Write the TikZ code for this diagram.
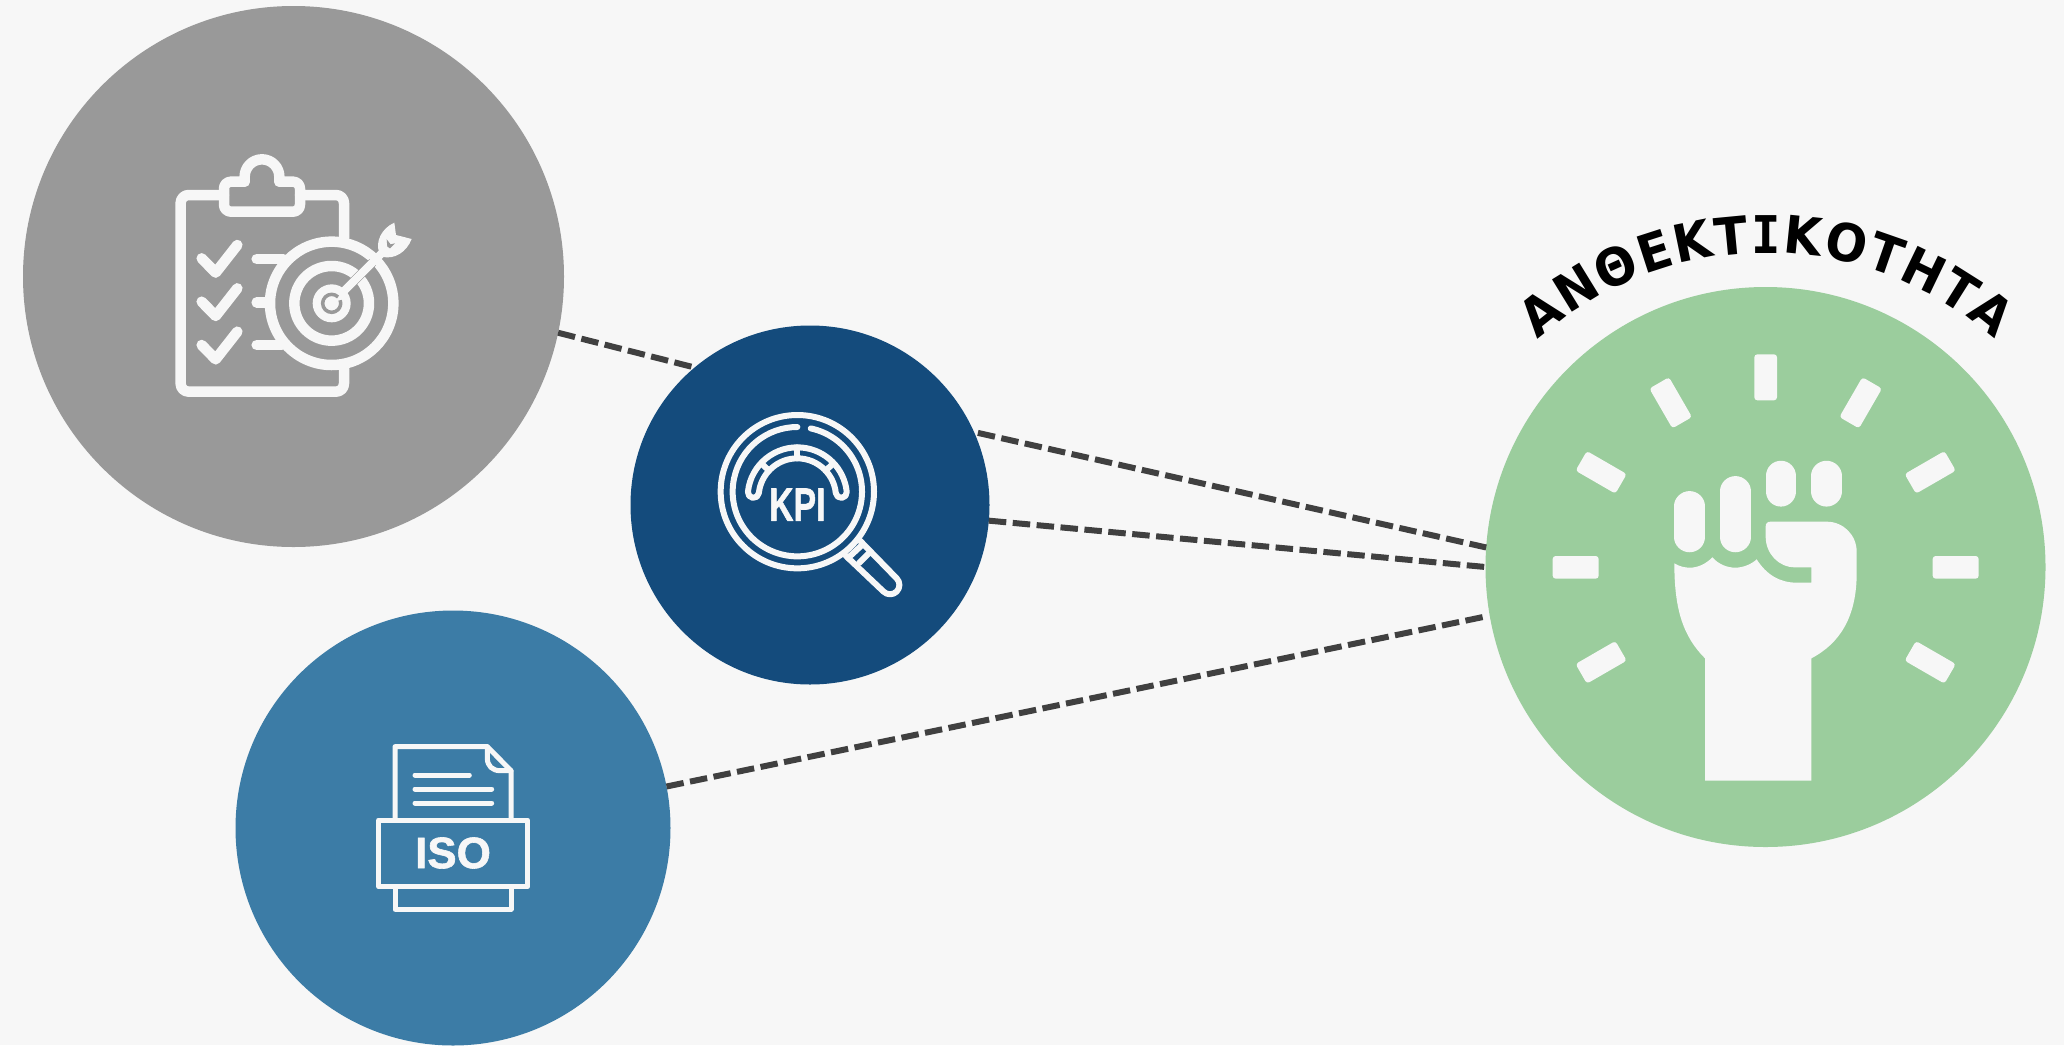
\documentclass[tikz,border=0pt]{standalone}
\usepackage{fontspec}
\setmainfont{Liberation Sans}
\newfontfamily\titlefont{DejaVu Sans}[FakeStretch=0.94]
\newfontfamily\titlemono{DejaVu Sans Mono}[FakeStretch=0.94]
\newfontfamily\iconfont{Liberation Sans Bold}[FakeBold=1.3]
\usetikzlibrary{decorations.text}
\definecolor{bgc}{HTML}{F7F7F7}
\definecolor{greyc}{HTML}{999999}
\definecolor{navyc}{HTML}{144B7C}
\definecolor{bluec}{HTML}{3C7CA6}
\definecolor{greenc}{HTML}{9BCD9D}
\definecolor{dashc}{HTML}{404040}
\tikzset{
  disc/.style={circle,inner sep=0pt,outer sep=0pt,minimum size=#1},
  linkline/.style={draw=dashc,line width=6pt,dash pattern=on 17.5pt off 6.5pt},
  iconline/.style={draw=bgc,line cap=round,line join=round,line width=#1},
  iconfill/.style={fill=bgc,draw=none},
  icontext/.style={text=bgc,inner sep=0pt,outer sep=0pt}
}
\begin{document}
\begin{tikzpicture}[x=1pt,y=-1pt]
\fill[bgc] (0,0) rectangle (2064,1045);
\useasboundingbox (0,0) rectangle (2064,1045);
\begin{scope}
\clip (0,0) rectangle (2064,1045);
\node[disc=541pt,fill=greyc] (grey) at (293.5,276.5) {};
\node[disc=359pt,fill=navyc] (navy) at (810,505) {};
\node[disc=435pt,fill=bluec] (blue) at (453,828) {};
\node[disc=560pt,fill=greenc] (green) at (1765.5,567) {};
\end{scope}
% connectors
\draw[linkline] (grey.-12.7) -- (navy.130.4);
\draw[linkline,shorten <=4pt] (navy.24) -- (green.176.1);
\draw[linkline] (navy.-5.1) -- (green.180.4);
\draw[linkline,shorten >=4pt] (blue.11.7) -- (green.190);
% clipboard icon
\begin{scope}[shift={(150,130)},scale=1/3]
\tikzset{every path/.append style={iconline=10.5pt}}
\draw[rounded corners=8pt] (222,195) -- (92,195) -- (92,785) -- (582,785) -- (582,715);
\draw[rounded corners=8pt] (450,195) -- (582,195) -- (582,325);
\draw[rounded corners=7pt] (388,155) -- (450,155) -- (450,245) -- (222,245) -- (222,155) -- (284,155);
\draw (284,155) -- (284,140) arc[start angle=180,end angle=360,radius=52] -- (388,155);
\draw (155,385) -- (197,428) -- (262,345);
\draw (155,515) -- (197,558) -- (262,475);
\draw (155,645) -- (197,688) -- (262,605);
\draw (320,387) -- (400,387);
\draw (320,517) -- (355,517);
\draw (320,645) -- (395,645);
\draw (545,520) circle[radius=185];
\draw (545,520) circle[radius=112];
\draw[draw=greyc,line width=9pt,line cap=butt] (560,505) -- (668,397);
\draw[line width=8pt] (545,520) -- (695,370);
\draw[draw=none,fill=bgc] (545,520) circle[radius=57];
\draw[draw=greyc,line width=3.5pt,line cap=butt] (545,520) ++(-45:27) arc[start angle=-45,end angle=-380,radius=27];
\end{scope}
\begin{scope}[shift={(300,210)},scale=1/3]
\fill[bgc] (238,128) .. controls (225,95) and (245,55) .. (283,38) -- (288,75) -- (335,87) .. controls (320,125) and (285,150) .. (245,140) -- cycle;
\fill[greyc] (260,88) -- (272,103) -- (285,100) -- (270,115) -- (262,110) -- cycle;
\end{scope}
% KPI icon
\begin{scope}[shift={(700,390)},scale=1/3]
\tikzset{every path/.append style={iconline=6pt}}
\draw (292,305) circle[radius=230];
\draw (292,305) ++(-78:194) arc[start angle=-78,end angle=270,radius=194];
\draw (480,452) -- (590,565) arc[start angle=-45,end angle=135,radius=28] -- (437,497);
\draw (444,504) -- (486,465);
\draw (477,519) -- (510,486);
\draw (292,321) ++(186:149) arc[start angle=186,end angle=354,radius=149] arc[start angle=354,end angle=534,radius=16.5] arc[start angle=354,end angle=186,radius=116] arc[start angle=6,end angle=186,radius=16.5];
\draw (292,172) -- (292,205);
\draw (292,321) ++(223:147) -- ++(43:31);
\draw (292,321) ++(317:147) -- ++(137:31);
\node[icontext,xscale=.72,font=\iconfont\fontsize{47}{47}\selectfont] (kpi) at (292,344) {KPI};
\end{scope}
% ISO icon
\begin{scope}[shift={(360,730)},scale=1/3]
\tikzset{every path/.append style={iconline=5pt}}
\draw (105,270) -- (105,50) -- (382,50) -- (453,122) -- (453,270);
\draw (382,50) -- (382,85) .. controls (382,108) and (398,122) .. (420,122) -- (453,122);
\draw (165,135) -- (328,135);
\draw (165,177) -- (395,177);
\draw (165,219) -- (395,219);
\draw (56,270) rectangle (503,470);
\draw (105,470) -- (105,538) -- (453,538) -- (453,470);
\node[icontext,font=\iconfont\fontsize{44}{44}\selectfont] (iso) at (279,369) {ISO};
\end{scope}
% fist icon
\begin{scope}[shift={(1530,340)},scale=1/3]
\foreach \a in {0,30,60,90,120,-30,-60,-90,-120}{
  \fill[bgc,rounded corners=3pt,rotate around={\a:(707,682)}] (673,43) rectangle (741,181);
}
\draw[iconline=30.5pt] (479,499) -- (479,591);
\draw[iconline=30.5pt] (616,454) -- (616,591);
\draw[iconline=30.5pt] (752.5,408) -- (752.5,454);
\draw[iconline=30.5pt] (889.5,408) -- (889.5,454);
\fill[bgc] (433,670) .. controls (450,680) and (465,683) .. (480,683) .. controls (505,683) and (530,670) .. (547,652) .. controls (565,672) and (590,683) .. (616,683) .. controls (640,683) and (665,672) .. (680,658) .. controls (710,705) and (750,728) .. (800,728) -- (844,728) -- (844,682) -- (795,682) .. controls (745,682) and (707,640) .. (707,590) -- (707,560) .. controls (707,550) and (712,545) .. (722,545) -- (890,545) .. controls (940,545) and (980,585) .. (980,635) -- (980,700) .. controls (980,830) and (930,910) .. (844,955) -- (844,1322) -- (525,1322) -- (525,955) .. controls (460,890) and (433,810) .. (433,670) -- cycle;
\end{scope}
% curved title
\path[decorate,decoration={text along path,text align=fit to path,
  text={|\titlefont\bfseries\fontsize{52}{52}\selectfont|ΑΝΘΕΚΤ|\titlemono\bfseries\fontsize{52}{52}\selectfont|Ι|\titlefont\bfseries\fontsize{52}{52}\selectfont|ΚΟΤΗΤΑ}}]
  (1766,598) ++(-131.5:345) arc[start angle=-131.5,end angle=-48.5,radius=345];
\end{tikzpicture}
\end{document}
